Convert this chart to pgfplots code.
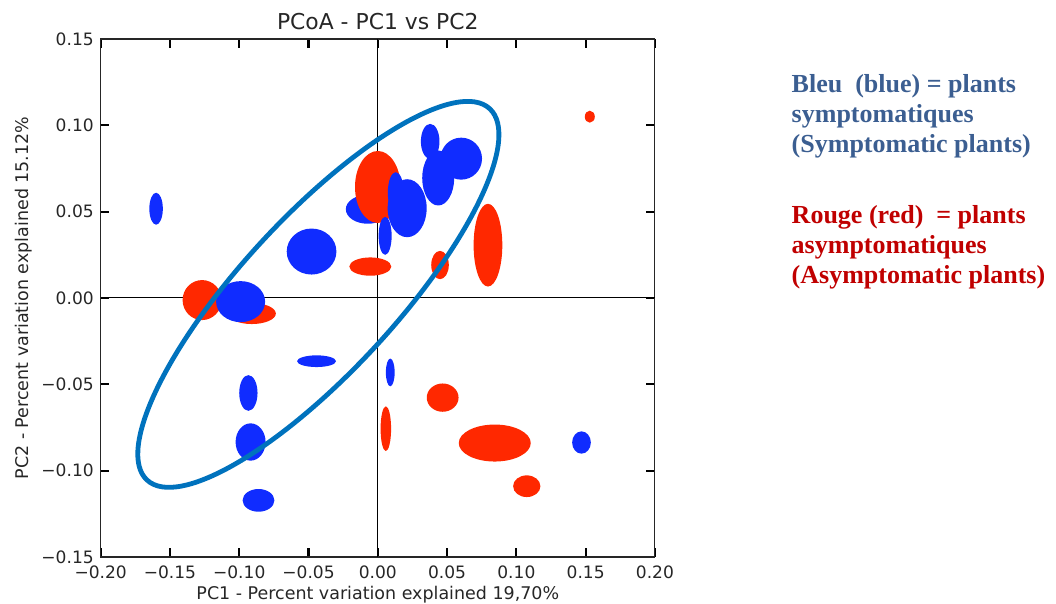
\documentclass[border=0pt]{standalone}
\usepackage{pgfplots}
\usepackage{pgfplotstable}
\pgfplotsset{compat=1.18}
\usepackage{fontspec}
\setmainfont{DejaVu Sans}
\newfontfamily\tnr{Liberation Serif}
\definecolor{ptblue}{RGB}{16,44,255}
\definecolor{ptred}{RGB}{255,40,0}
\definecolor{outlineblue}{RGB}{0,114,189}
\definecolor{txtblue}{RGB}{59,94,145}
\definecolor{txtred}{RGB}{192,0,0}

% filled ellipse mark, radii (pt) from the table
\pgfdeclareplotmark{ell}{%
  \pgfpathellipse{\pgfpointorigin}{\pgfpoint{\ellrx pt}{0pt}}{\pgfpoint{0pt}{\ellry pt}}%
  \pgfusepathqfill}
% rotated outline ellipse
\pgfdeclareplotmark{bigell}{%
  \pgftransformrotate{47.3}%
  \pgfpathellipse{\pgfpointorigin}{\pgfpoint{189.5pt}{0pt}}{\pgfpoint{0pt}{58pt}}%
  \pgfusepathqstroke}

\pgfplotsset{ellmarks/.style={only marks, mark=ell,
  visualization depends on={0.375*\thisrow{w} \as \ellrx},
  visualization depends on={0.375*\thisrow{h} \as \ellry}}}

% x y w h  (w,h = full width/height in px of the reference)
\pgfplotstableread{
x y w h
-0.0072 0.0514 44 29
}\bluebottom

\pgfplotstableread{
x y w h
0.0000 0.0643 45.6 72
-0.0054 0.0182 42 18.3
0.0449 0.0191 17.6 28.3
0.0795 0.0306 28.7 82.7
-0.1268 -0.0012 39 40
-0.0909 -0.0090 48 21
0.1530 0.1050 10 12
0.0468 -0.0577 31.8 28.3
0.0058 -0.0757 10.5 44.7
0.0844 -0.0840 72 37
0.1075 -0.1090 27.3 21.7
}\redpts

\pgfplotstableread{
x y w h
-0.1600 0.0517 13.5 32
0.0212 0.0520 39 58
0.0130 0.0610 16 41
0.0053 0.0360 13 38
0.0378 0.0907 18.6 35
0.0602 0.0807 41.6 42
0.0436 0.0695 32 55
-0.0478 0.0269 49.7 46
-0.0990 -0.0021 49 41
-0.0442 -0.0366 38.9 11.7
0.0090 -0.0431 8.8 27.7
-0.0934 -0.0550 18.3 35.7
-0.0918 -0.0834 30 37.3
-0.0861 -0.1172 31.8 22.7
0.1470 -0.0837 18.7 22.3
}\bluepts

\begin{document}
\begin{tikzpicture}
\useasboundingbox (0,0) rectangle (792pt,452.25pt);
\begin{axis}[
  at={(75.5pt,34.5pt)}, anchor=south west,
  scale only axis, width=415.7pt, height=388.5pt,
  xmin=-0.2, xmax=0.2, ymin=-0.15, ymax=0.15,
  xtick={-0.2,-0.15,-0.1,-0.05,0,0.05,0.1,0.15,0.2},
  xticklabels={−0.20,−0.15,−0.10,−0.05,0.00,0.05,0.10,0.15,0.20},
  ytick={-0.15,-0.1,-0.05,0,0.05,0.1,0.15},
  yticklabels={−0.15,−0.10,−0.05,0.00,0.05,0.10,0.15},
  tick align=inside,
  major tick length=6.5pt,
  tick style={black, line width=1.6pt},
  axis line style={black!85, line width=0.8pt},
  tick label style={font=\fontsize{12.8}{15}\selectfont, text=black!85},
  xticklabel style={anchor=base, yshift=-15.75pt},
  yticklabel style={anchor=east, inner sep=0pt, xshift=-5pt},
  title={PCoA - PC1 vs PC2},
  every axis title/.style={at={(axis description cs:0.5,1)}, anchor=base, yshift=7.3pt, font=\fontsize{16.4}{19}\selectfont, text=black!85, inner sep=0pt},
  xlabel={PC1 - Percent variation explained 19,70\%},
  xlabel style={at={(axis description cs:0.5,0)}, anchor=base, yshift=-31.9pt, font=\fontsize{13.1}{15}\selectfont, text=black!85, inner sep=0pt},
  ylabel={PC2 - Percent variation explained 15.12\%},
  ylabel style={at={(axis description cs:-0.131,0.5)}, anchor=base, font=\fontsize{13.1}{15}\selectfont, text=black!85, inner sep=0pt},
]
\addplot[ellmarks, color=ptblue] table {\bluebottom};
\addplot[ellmarks, color=ptred] table {\redpts};
\addplot[ellmarks, color=ptblue] table {\bluepts};
\addplot[black, line width=0.75pt, mark=none] coordinates {(-0.2,0) (0.2,0)};
\addplot[black, line width=0.75pt, mark=none] coordinates {(0,-0.15) (0,0.15)};
\addplot[only marks, mark=bigell, mark options={line width=3.6pt, draw=outlineblue}] coordinates {(-0.0429,0.0021)};
\end{axis}
\begin{scope}[every node/.style={anchor=base west, inner sep=0pt, font=\tnr\bfseries\fontsize{19.5}{22.7}\selectfont}]
\node[text=txtblue] at (593.6pt,383pt) {Bleu~ (blue) = plants};
\node[text=txtblue] at (593.6pt,360.3pt) {symptomatiques};
\node[text=txtblue] at (593.6pt,337.6pt) {(Symptomatic plants)};
\node[text=txtred] at (593.6pt,284.8pt) {Rouge (red)~ = plants};
\node[text=txtred] at (593.6pt,262.1pt) {asymptomatiques};
\node[text=txtred] at (593.6pt,239.4pt) {(Asymptomatic plants)};
\end{scope}
\end{tikzpicture}
\end{document}
